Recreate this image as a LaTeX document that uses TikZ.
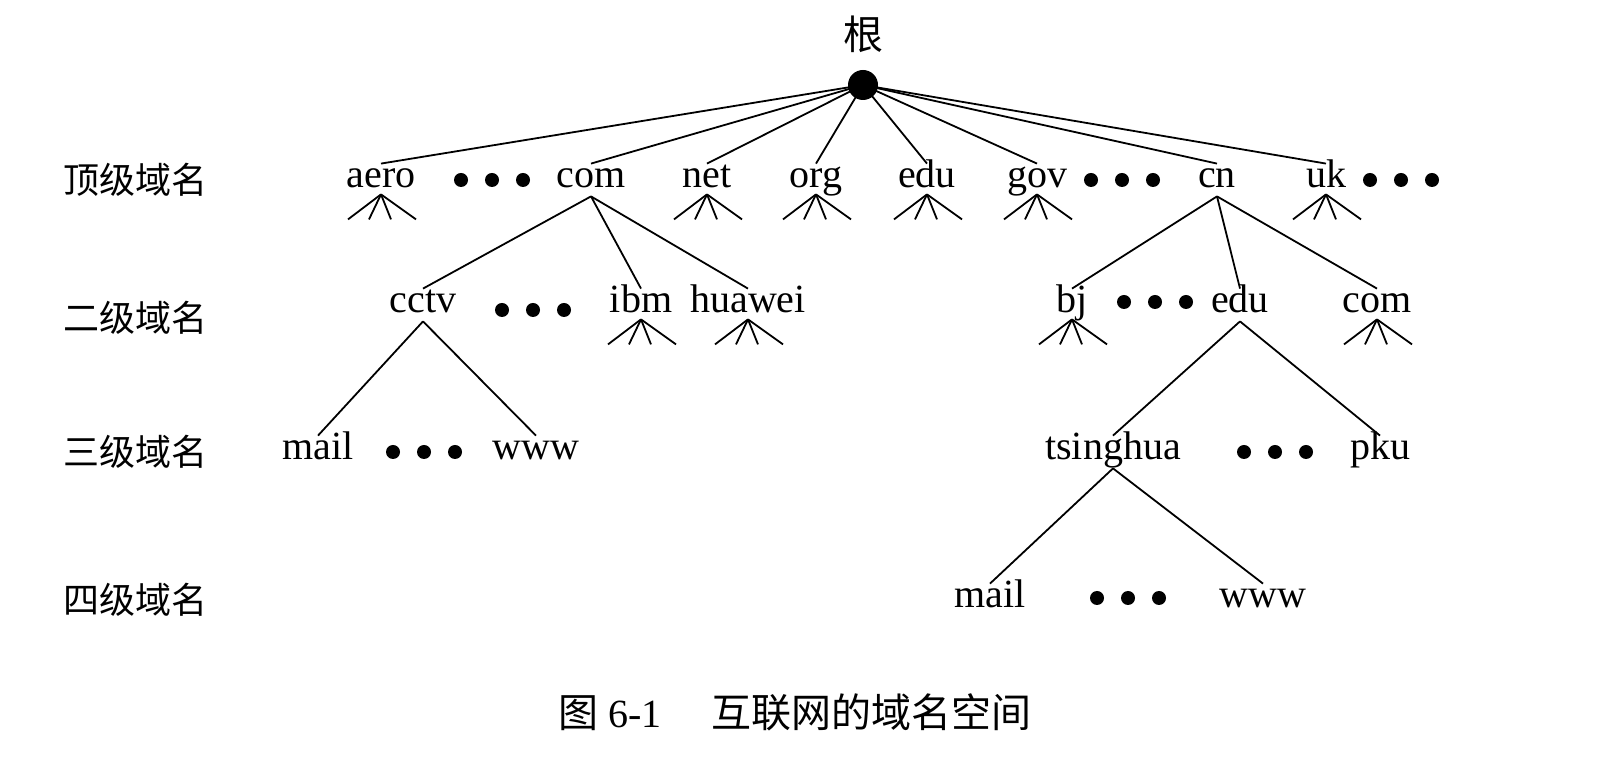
\documentclass[tikz,border=0pt]{standalone}
\usepackage{fontspec}
\setmainfont{Liberation Serif}
\newfontfamily\cjk{Noto Sans CJK SC}
\tikzset{
  lbl/.style={inner sep=1pt,text height=11pt,text depth=3pt,font=\fontsize{20}{22}\selectfont},
  lvl/.style={inner sep=1pt,font=\cjk\fontsize{18}{20}\selectfont},
  edge/.style={line width=0.9pt},
}
\newcommand\dotrow[2]{% x, y
  \foreach \d in {-31,0,31}{\fill (#1+\d,#2) circle (7);}}
\newcommand\fan[1]{% node name
  \foreach \d in {-33,-12,10,35}{\draw[edge] (#1.south) ++(0,-2) -- ++(\d,25);}}
\begin{document}
\begin{tikzpicture}[x=0.5pt,y=-0.5pt]
  \useasboundingbox (0,0) rectangle (1607,779);
  % root
  \fill (863,85) circle (15) coordinate (root);
  \node[lbl] at (863,42) {\cjk 根};
  % levels
  \node[lvl] at (135,180) {顶级域名};
  \node[lvl] at (135,318) {二级域名};
  \node[lvl] at (135,452) {三级域名};
  \node[lvl] at (135,600) {四级域名};
  % top level
  \foreach \n/\x/\t in {aero/381/aero,com/591/com,net/707/net,org/816/org,edu/927/edu,gov/1037/gov,cn/1217/cn,uk/1326/uk}
    \node[lbl] (\n) at (\x,180) {\t};
  \foreach \x in {492,1122,1401} \dotrow{\x}{180};
  \foreach \n in {aero,com,net,org,edu,gov,cn,uk}
    \draw[edge] (root) -- (\n.north);
  \foreach \n in {aero,net,org,edu,gov,uk}
    \fan{\n};
  % second level
  \node[lbl] (cctv) at (423,305) {cctv};
  \node[lbl] (ibm) at (641,305) {ibm};
  \node[lbl] (huawei) at (748,305) {huawei};
  \node[lbl] (bj) at (1072,305) {bj};
  \node[lbl] (cnedu) at (1240,305) {edu};
  \node[lbl] (cncom) at (1377,305) {com};
  \dotrow{533}{310}; \dotrow{1155}{302};
  \foreach \n in {cctv,ibm,huawei} \draw[edge] (com.south) -- (\n.north);
  \foreach \n in {bj,cnedu,cncom} \draw[edge] (cn.south) -- (\n.north);
  \foreach \n in {ibm,huawei,bj,cncom} \fan{\n};
  % third level
  \node[lbl] (mail) at (318,452) {mail};
  \node[lbl] (www) at (536,452) {www};
  \node[lbl] (tsinghua) at (1113,452) {tsinghua};
  \node[lbl] (pku) at (1380,452) {pku};
  \dotrow{424}{452}; \dotrow{1275}{452};
  \draw[edge] (cctv.south) -- (mail.north);
  \draw[edge] (cctv.south) -- (www.north);
  \draw[edge] (cnedu.south) -- (tsinghua.north);
  \draw[edge] (cnedu.south) -- (pku.north);
  % fourth level
  \node[lbl] (tmail) at (990,600) {mail};
  \node[lbl] (twww) at (1263,600) {www};
  \dotrow{1128}{598};
  \draw[edge] (tsinghua.south) -- (tmail.north);
  \draw[edge] (tsinghua.south) -- (twww.north);
  % caption
  \node[lbl] (cap) at (795,720) {{\cjk 图} 6-1\quad\ {\cjk 互联网的域名空间}};
\end{tikzpicture}
\end{document}
